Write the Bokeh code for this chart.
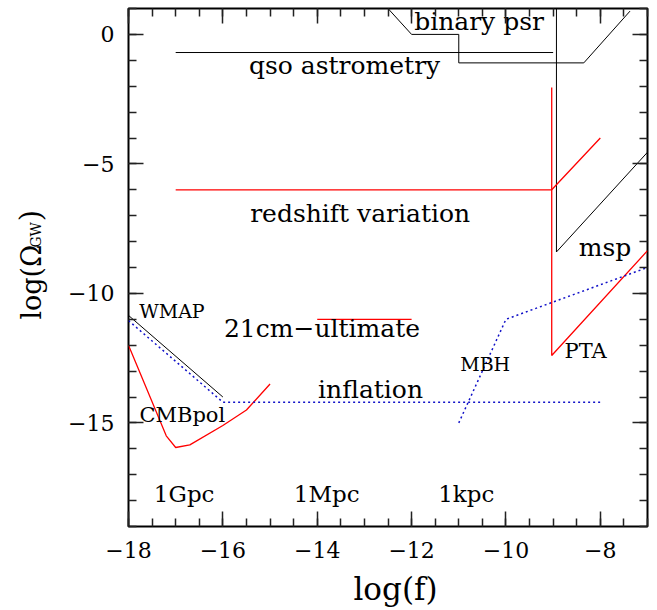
import numpy as np
from math import pi
from bokeh.plotting import figure
from bokeh.layouts import row, column
from bokeh.models import (FixedTicker, LinearAxis, ColumnDataSource, Range1d,
                          CustomJSTickFormatter)
from bokeh.core.properties import value
from bokeh.embed import file_html
from bokeh.resources import INLINE

# ---------------- data ----------------
x_major = [-18, -16, -14, -12, -10, -8]
x_tick_labels = ["−18", "−16", "−14", "−12", "−10", "−8"]
y_major = [0, -5, -10, -15]
y_tick_labels = ["0", "−5", "−10", "−15"]

qso_x = [-17.0, -9.0]
qso_y = [-0.7, -0.7]

bpsr_x = [-12.5, -12.0, -11.0, -11.0, -8.35, -7.37]
bpsr_y = [1.0, 0.0, 0.0, -1.1, -1.1, 0.9]

msp_x = [-8.93, -8.93, -7.0]
msp_y = [1.0, -8.4, -4.55]

redshift_x = [-17.0, -9.03, -8.0]
redshift_y = [-6.0, -6.0, -4.0]

pta_x = [-9.03, -9.03, -7.0]
pta_y = [-2.05, -12.4, -8.35]

cm21_x = [-14.0, -12.0]
cm21_y = [-11.0, -11.0]

wmap_x = [-18.0, -16.0]
wmap_y = [-10.85, -14.0]

inflation_x = [-18.0, -16.0, -8.0]
inflation_y = [-11.05, -14.2, -14.2]

cmbpol_x = [-18.0, -17.2, -17.0, -16.7, -16.0, -15.5, -15.0]
cmbpol_y = [-12.0, -15.5, -15.95, -15.85, -15.1, -14.5, -13.5]

mbh_x = [-11.0, -10.0, -7.0]
mbh_y = [-15.0, -11.0, -9.0]

label_text = ["binary psr", "qso astrometry", "redshift variation", "msp", "WMAP",
              "21cm−ultimate", "MBH", "PTA", "inflation", "CMBpol", "1Gpc", "1Mpc", "1kpc"]
label_x = [-10.57, -13.42, -13.09, -7.9, -17.08, -13.9, -10.44, -8.31, -12.87, -16.86,
           -16.82, -13.8, -10.84]
label_y = [0.5, -1.19, -6.93, -8.21, -10.69, -11.36, -12.72, -12.21, -13.71, -14.69,
           -17.74, -17.74, -17.74]
label_size = ["25px", "25px", "25px", "25px", "19px", "25px", "19px", "21px", "25px",
              "21px", "23px", "23px", "23px"]

# y-axis title pieces (page-pixel anchors of the rotated title pieces)
ytitle_text = ["log(Ω", "GW", ")"]
ytitle_x = [30.5, 35.0, 30.0]
ytitle_y = [301.0, 249.0, 228.0]
ytitle_size = ["27px", "14px", "29px"]

# x-axis title (page-pixel centre)
xtitle_text = ["log(f)"]
xtitle_x = [395.0]
xtitle_y = [588.0]
xtitle_size = ["31px"]

FONT = "DejaVu Serif"
RED = "#ff0000"
BLUE = "#1010c8"
PAGE_W = 657
PAGE_H = 610
TOP_H = 570          # height of the plot row
YL_W = 56            # width of the y-title strip

p = figure(frame_width=519, frame_height=518,
           x_range=Range1d(-18, -7), y_range=Range1d(-19, 1),
           output_backend="svg", toolbar_location=None,
           min_border_left=128 - YL_W, min_border_right=PAGE_W - 647,
           min_border_top=8, min_border_bottom=TOP_H - 526)
p.grid.visible = False
p.background_fill_color = "white"
p.border_fill_color = "white"
p.outline_line_color = "black"
p.outline_line_width = 2

x_minor = list(np.arange(-18, -6.99, 0.5))
y_minor = list(np.arange(-19, 1.01, 1.0))


def style_axis(ax, labels=True):
    ax.major_tick_in = 15
    ax.major_tick_out = 0
    ax.minor_tick_in = 8
    ax.minor_tick_out = 0
    ax.major_tick_line_width = 1.5
    ax.minor_tick_line_width = 1.5
    ax.major_tick_line_color = "#222222"
    ax.minor_tick_line_color = "#222222"
    ax.axis_line_color = None
    if labels:
        ax.major_label_text_font = FONT
        ax.major_label_text_font_size = "22px"
        ax.major_label_text_color = "black"
    else:
        ax.formatter = CustomJSTickFormatter(code="return ''")
        ax.major_label_standoff = 0


xa = p.xaxis[0]
xa.ticker = FixedTicker(ticks=x_major, minor_ticks=x_minor)
style_axis(xa)
xa.major_label_overrides = {v: s for v, s in zip(x_major, x_tick_labels)}
xa.major_label_standoff = 15

ya = p.yaxis[0]
ya.ticker = FixedTicker(ticks=y_major, minor_ticks=y_minor)
style_axis(ya)
ya.major_label_overrides = {v: s for v, s in zip(y_major, y_tick_labels)}
ya.major_label_standoff = 14
ya.major_label_orientation = "horizontal"

top = LinearAxis(ticker=FixedTicker(ticks=x_major, minor_ticks=x_minor))
style_axis(top, labels=False)
p.add_layout(top, "above")
right = LinearAxis(ticker=FixedTicker(ticks=y_major, minor_ticks=y_minor))
style_axis(right, labels=False)
p.add_layout(right, "right")

# lines
p.line(qso_x, qso_y, line_color="black", line_width=1)
p.line(bpsr_x, bpsr_y, line_color="black", line_width=1)
p.line(msp_x, msp_y, line_color="black", line_width=1)
p.line(wmap_x, wmap_y, line_color="black", line_width=1)
p.line(redshift_x, redshift_y, line_color=RED, line_width=1.3)
p.line(pta_x, pta_y, line_color=RED, line_width=1.3)
p.line(cm21_x, cm21_y, line_color=RED, line_width=1.3)
p.line(cmbpol_x, cmbpol_y, line_color=RED, line_width=1.3)
p.line(inflation_x, inflation_y, line_color=BLUE, line_width=1.5, line_dash="2 3")
p.line(mbh_x, mbh_y, line_color=BLUE, line_width=1.5, line_dash="2 3")

src = ColumnDataSource(dict(x=label_x, y=label_y, t=label_text, s=label_size))
p.text(x="x", y="y", text="t", source=src, text_font=value(FONT), text_font_size="s",
       text_align="center", text_baseline="alphabetic", text_color="black")


def strip(w, h):
    f = figure(width=w, height=h, x_range=Range1d(0, w), y_range=Range1d(0, h),
               output_backend="svg", toolbar_location=None,
               x_axis_location=None, y_axis_location=None,
               min_border_left=0, min_border_right=0, min_border_top=0, min_border_bottom=0)
    f.grid.visible = False
    f.outline_line_color = None
    f.background_fill_color = "white"
    f.border_fill_color = "white"
    return f


# ---- narrow strip holding the rotated y-axis title ----
yl = strip(YL_W, TOP_H)
ysrc = ColumnDataSource(dict(x=ytitle_x, y=[TOP_H - v for v in ytitle_y],
                             t=ytitle_text, s=ytitle_size))
yl.text(x="x", y="y", text="t", source=ysrc, angle=pi / 2, text_font=value(FONT),
        text_font_size="s", text_align="center", text_baseline="middle",
        text_color="black")

# ---- strip below holding the x-axis title ----
xl_h = PAGE_H - TOP_H
xl = strip(PAGE_W, xl_h)
xsrc = ColumnDataSource(dict(x=xtitle_x, y=[PAGE_H - v for v in xtitle_y],
                             t=xtitle_text, s=xtitle_size))
xl.text(x="x", y="y", text="t", source=xsrc, text_font=value(FONT),
        text_font_size="s", text_align="center", text_baseline="middle",
        text_color="black")

layout = column(row(yl, p, spacing=0), xl, spacing=0)
open("out.html", "w").write(file_html(layout, INLINE))
